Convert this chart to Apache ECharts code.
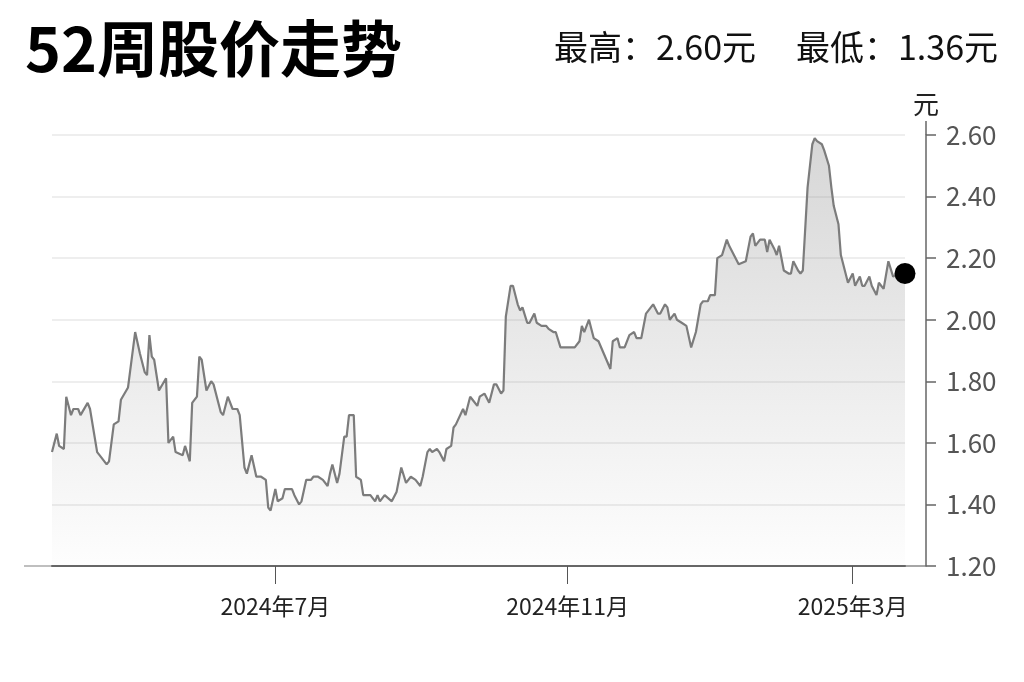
<!DOCTYPE html>
<html>
<head>
<meta charset="utf-8">
<title>52周股价走势</title>
<script src="https://cdn.jsdelivr.net/npm/echarts@6/dist/echarts.min.js"></script>
<style>
  html, body { margin: 0; padding: 0; background: #fff; }
  #chart { width: 1024px; height: 682px; }
</style>
</head>
<body>
<div id="chart"></div>
<script>
// 交易日期
const dates = [
  '2024-03-29','2024-03-31','2024-04-01','2024-04-03','2024-04-04','2024-04-06','2024-04-07','2024-04-09',
  '2024-04-10','2024-04-13','2024-04-14','2024-04-17','2024-04-18','2024-04-21','2024-04-22','2024-04-24',
  '2024-04-26','2024-04-27','2024-04-30','2024-05-03','2024-05-05','2024-05-07','2024-05-08','2024-05-09',
  '2024-05-10','2024-05-11','2024-05-13','2024-05-16','2024-05-17','2024-05-19','2024-05-20','2024-05-23',
  '2024-05-24','2024-05-26','2024-05-27','2024-05-29','2024-05-30','2024-05-31','2024-06-02','2024-06-04',
  '2024-06-05','2024-06-08','2024-06-09','2024-06-11','2024-06-13','2024-06-15','2024-06-16','2024-06-18',
  '2024-06-19','2024-06-21','2024-06-23','2024-06-25','2024-06-27','2024-06-28','2024-06-29','2024-07-01',
  '2024-07-02','2024-07-04','2024-07-05','2024-07-08','2024-07-09','2024-07-11','2024-07-12','2024-07-14',
  '2024-07-16','2024-07-17','2024-07-19','2024-07-21','2024-07-23','2024-07-24','2024-07-25','2024-07-27',
  '2024-07-28','2024-07-30','2024-07-31','2024-08-01','2024-08-03','2024-08-04','2024-08-06','2024-08-07',
  '2024-08-10','2024-08-12','2024-08-13','2024-08-14','2024-08-16','2024-08-19','2024-08-21','2024-08-23',
  '2024-08-25','2024-08-27','2024-08-29','2024-08-31','2024-09-01','2024-09-03','2024-09-04','2024-09-05',
  '2024-09-07','2024-09-08','2024-09-10','2024-09-11','2024-09-13','2024-09-14','2024-09-15','2024-09-18',
  '2024-09-19','2024-09-21','2024-09-22','2024-09-24','2024-09-25','2024-09-27','2024-09-29','2024-10-01',
  '2024-10-02','2024-10-04','2024-10-05','2024-10-06','2024-10-08','2024-10-09','2024-10-11','2024-10-12',
  '2024-10-13','2024-10-15','2024-10-16','2024-10-18','2024-10-19','2024-10-21','2024-10-23','2024-10-24',
  '2024-10-26','2024-10-27','2024-10-29','2024-10-30','2024-11-04','2024-11-06','2024-11-07','2024-11-08',
  '2024-11-10','2024-11-12','2024-11-14','2024-11-19','2024-11-20','2024-11-22','2024-11-23','2024-11-25',
  '2024-11-27','2024-11-29','2024-11-30','2024-12-02','2024-12-04','2024-12-07','2024-12-09','2024-12-10',
  '2024-12-12','2024-12-13','2024-12-14','2024-12-16','2024-12-17','2024-12-19','2024-12-21','2024-12-23',
  '2024-12-25','2024-12-27','2024-12-28','2024-12-30','2024-12-31','2025-01-02','2025-01-03','2025-01-05',
  '2025-01-07','2025-01-08','2025-01-10','2025-01-12','2025-01-15','2025-01-17','2025-01-18','2025-01-19',
  '2025-01-21','2025-01-23','2025-01-24','2025-01-25','2025-01-27','2025-01-28','2025-01-29','2025-01-31',
  '2025-02-02','2025-02-03','2025-02-04','2025-02-06','2025-02-07','2025-02-08','2025-02-10','2025-02-12',
  '2025-02-13','2025-02-14','2025-02-16','2025-02-17','2025-02-19','2025-02-20','2025-02-21','2025-02-23',
  '2025-02-24','2025-02-25','2025-02-27','2025-03-01','2025-03-02','2025-03-04','2025-03-05','2025-03-06',
  '2025-03-08','2025-03-09','2025-03-11','2025-03-12','2025-03-14','2025-03-16','2025-03-18','2025-03-20',
  '2025-03-23'
];

// 收盘价（元）
const prices = [
  1.57,1.63,1.59,1.58,1.75,1.69,1.71,1.71,
  1.69,1.73,1.71,1.57,1.56,1.53,1.54,1.66,
  1.67,1.74,1.78,1.96,1.89,1.83,1.82,1.95,
  1.88,1.87,1.77,1.81,1.60,1.62,1.57,1.56,
  1.59,1.54,1.73,1.75,1.88,1.87,1.77,1.80,
  1.79,1.70,1.69,1.75,1.71,1.71,1.69,1.52,
  1.50,1.56,1.49,1.49,1.48,1.39,1.38,1.45,
  1.41,1.42,1.45,1.45,1.43,1.40,1.41,1.48,
  1.48,1.49,1.49,1.48,1.46,1.50,1.53,1.47,
  1.50,1.62,1.62,1.69,1.69,1.49,1.48,1.43,
  1.43,1.41,1.43,1.41,1.43,1.41,1.44,1.52,
  1.47,1.49,1.48,1.46,1.49,1.57,1.58,1.57,
  1.58,1.57,1.54,1.58,1.59,1.65,1.66,1.71,
  1.69,1.75,1.74,1.72,1.75,1.76,1.73,1.79,
  1.79,1.76,1.77,2.01,2.11,2.11,2.05,2.03,
  2.04,1.99,1.99,2.02,1.99,1.98,1.98,1.97,
  1.96,1.96,1.91,1.91,1.91,1.93,1.98,1.96,
  2.00,1.94,1.93,1.84,1.93,1.94,1.91,1.91,
  1.95,1.96,1.94,1.94,2.02,2.05,2.02,2.02,
  2.05,2.04,2.00,2.02,2.00,1.99,1.98,1.91,
  1.96,2.05,2.06,2.06,2.08,2.08,2.20,2.21,
  2.26,2.24,2.21,2.18,2.19,2.27,2.28,2.24,
  2.26,2.26,2.22,2.26,2.23,2.21,2.24,2.16,
  2.15,2.15,2.19,2.16,2.15,2.16,2.43,2.57,
  2.59,2.58,2.57,2.55,2.50,2.43,2.37,2.31,
  2.21,2.18,2.12,2.15,2.11,2.14,2.11,2.11,
  2.14,2.11,2.08,2.12,2.10,2.19,2.14,2.15,
  2.15
];

const tickDates = ['2024-07-01', '2024-11-01', '2025-03-01'];
const yTicks = { min: 1.2, max: 2.6, step: 0.2 };
const highPrice = '2.60';
const lowPrice = '1.36';

const FONT = '"Noto Sans CJK SC", "Noto Sans", sans-serif';

let chart = echarts.init(document.getElementById('chart'));

let toTime = d => +echarts.time.parse(d);
let lineData = dates.map((d, i) => [toTime(d), prices[i]]);
let lastPoint = lineData[lineData.length - 1];
let tickValues = tickDates.map(toTime);

chart.setOption({
  animation: false,
  backgroundColor: '#fff',
  grid: { left: 52, right: 119, top: 135, bottom: 116 },
  graphic: [
    {
      type: 'text', left: 25, top: 18,
      style: { text: '52周股价走势', font: 'bold 61px ' + FONT, fill: '#000' }
    },
    {
      type: 'text', right: 268, top: 30,
      style: { text: '最高：' + highPrice + '元', font: '34px ' + FONT, fill: '#111' }
    },
    {
      type: 'text', right: 26, top: 30,
      style: { text: '最低：' + lowPrice + '元', font: '34px ' + FONT, fill: '#111' }
    },
    // 坐标轴两端延长线
    { type: 'line', shape: { x1: 24, y1: 566, x2: 52, y2: 566 }, style: { stroke: '#aaa', lineWidth: 1.5 } },
    { type: 'line', shape: { x1: 905, y1: 566, x2: 926, y2: 566 }, style: { stroke: '#888', lineWidth: 1.5 } },
    { type: 'line', shape: { x1: 926, y1: 121, x2: 926, y2: 135 }, style: { stroke: '#666', lineWidth: 1.5 } }
  ],
  xAxis: {
    type: 'value',
    min: toTime(dates[0]),
    max: toTime(dates[dates.length - 1]),
    axisLine: { show: true, lineStyle: { color: '#666', width: 2 } },
    axisTick: { show: true, customValues: tickValues, length: 18, lineStyle: { color: '#555', width: 1 } },
    axisLabel: {
      customValues: tickValues,
      margin: 29,
      fontSize: 23,
      color: '#222',
      fontFamily: FONT,
      formatter: function (v) {
        let d = new Date(v);
        return d.getFullYear() + '年' + (d.getMonth() + 1) + '月';
      }
    },
    splitLine: { show: false }
  },
  yAxis: {
    type: 'value',
    position: 'right',
    offset: 21,
    min: yTicks.min,
    max: yTicks.max,
    interval: yTicks.step,
    name: '元',
    nameLocation: 'end',
    nameGap: 18,
    nameTextStyle: { fontSize: 26, color: '#222', fontFamily: FONT, align: 'center' },
    axisLine: { show: true, lineStyle: { color: '#666', width: 1.5 } },
    axisTick: { show: true, length: 10, lineStyle: { color: '#666', width: 1.5 } },
    axisLabel: {
      margin: 20,
      fontSize: 26,
      color: '#555',
      fontFamily: FONT,
      formatter: v => v.toFixed(2)
    },
    splitLine: { show: true, lineStyle: { color: '#e9e9e9', width: 1.5 } }
  },
  series: [
    {
      type: 'line',
      data: lineData,
      showSymbol: false,
      symbol: 'none',
      lineStyle: { color: '#7c7c7c', width: 2.2 },
      areaStyle: {
        color: new echarts.graphic.LinearGradient(0, 0, 0, 1, [
          { offset: 0, color: 'rgba(140,140,140,0.5)' },
          { offset: 1, color: 'rgba(140,140,140,0.02)' }
        ])
      },
      z: 2
    },
    {
      type: 'scatter',
      data: [lastPoint],
      symbolSize: 21,
      itemStyle: { color: '#000', opacity: 1 },
      z: 5
    }
  ]
});
</script>
</body>
</html>
